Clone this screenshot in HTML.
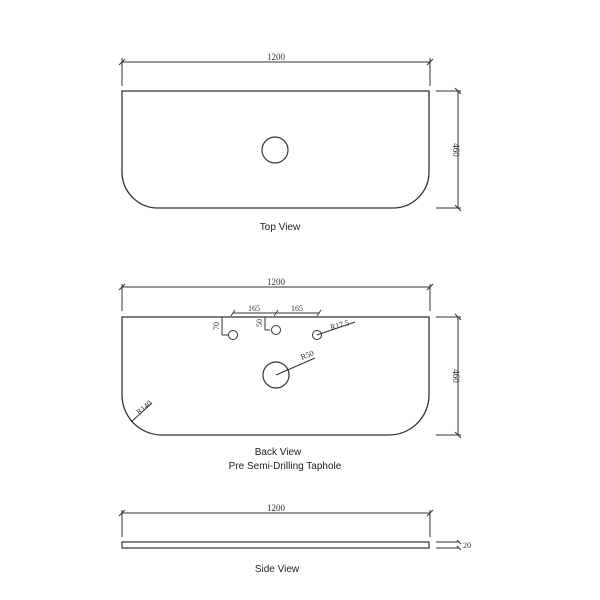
<!DOCTYPE html>
<html><head><style>body{margin:0;background:#fff}svg{display:block}</style></head><body>
<svg width="600" height="600" xmlns="http://www.w3.org/2000/svg" font-family="Liberation Serif, serif" fill="none" stroke="#333" stroke-width="1">
<!-- Top view -->
<line x1="122" y1="62" x2="430" y2="62"/>
<line x1="122" y1="58" x2="122" y2="86"/>
<line x1="430" y1="58" x2="430" y2="86"/>
<path d="M119 65 L125 59 M427 65 L433 59"/>
<text x="276" y="60" font-size="9" fill="#333" stroke="none" text-anchor="middle">1200</text>
<path d="M122 91 L429 91 L429 172 A36 36 0 0 1 393 208 L158 208 A36 36 0 0 1 122 172 Z" stroke-width="1.3"/>
<circle cx="275" cy="150" r="13" stroke-width="1.2"/>
<line x1="458" y1="91" x2="458" y2="208"/>
<line x1="436" y1="91" x2="461" y2="91"/>
<line x1="436" y1="208" x2="461" y2="208"/>
<path d="M455 88 L461 94 M455 205 L461 211"/>
<text transform="translate(453,150) rotate(90)" font-size="9" fill="#333" stroke="none" text-anchor="middle">460</text>
<text x="280" y="230" font-size="10" font-family="Liberation Sans, sans-serif" fill="#222" stroke="none" text-anchor="middle">Top View</text>
<!-- Back view -->
<line x1="122" y1="287" x2="430" y2="287"/>
<line x1="122" y1="284" x2="122" y2="311"/>
<line x1="430" y1="284" x2="430" y2="311"/>
<path d="M119 290 L125 284 M427 290 L433 284"/>
<text x="276" y="285" font-size="9" fill="#333" stroke="none" text-anchor="middle">1200</text>
<path d="M122 317 L429 317 L429 395 A40 40 0 0 1 389 435 L162 435 A40 40 0 0 1 122 395 Z" stroke-width="1.3"/>
<circle cx="233" cy="335" r="4.5"/>
<circle cx="276" cy="330" r="4.5"/>
<circle cx="317" cy="335" r="4.5"/>
<circle cx="276" cy="375" r="13" stroke-width="1.2"/>
<line x1="276" y1="375" x2="315" y2="358"/>
<text transform="translate(302,360) rotate(-22)" font-size="8" fill="#333" stroke="none">R50</text>
<line x1="317" y1="335" x2="355" y2="322"/>
<text transform="translate(331,330) rotate(-15)" font-size="8" fill="#333" stroke="none">R17.5</text>
<line x1="131" y1="422" x2="152" y2="403"/>
<text transform="translate(139,415) rotate(-40)" font-size="8" fill="#333" stroke="none">R140</text>
<line x1="233" y1="313" x2="319" y2="313"/>
<path d="M231 316 L235 310 M274 316 L278 310 M317 316 L321 310"/>
<text x="254" y="311" font-size="8" fill="#333" stroke="none" text-anchor="middle">165</text>
<text x="297" y="311" font-size="8" fill="#333" stroke="none" text-anchor="middle">165</text>
<line x1="222" y1="317" x2="222" y2="335"/><line x1="222" y1="335" x2="228" y2="335"/>
<text transform="translate(219,326) rotate(-90)" font-size="8" fill="#333" stroke="none" text-anchor="middle">70</text>
<line x1="265" y1="317" x2="265" y2="330"/><line x1="265" y1="330" x2="270" y2="330"/>
<text transform="translate(262,323) rotate(-90)" font-size="8" fill="#333" stroke="none" text-anchor="middle">50</text>
<line x1="458" y1="317" x2="458" y2="435"/>
<line x1="436" y1="317" x2="461" y2="317"/>
<line x1="436" y1="435" x2="461" y2="435"/>
<path d="M455 314 L461 320 M455 432 L461 438"/>
<text transform="translate(453,376) rotate(90)" font-size="9" fill="#333" stroke="none" text-anchor="middle">460</text>
<text x="278" y="455" font-size="10" font-family="Liberation Sans, sans-serif" fill="#222" stroke="none" text-anchor="middle">Back View</text>
<text x="285" y="469" font-size="10" font-family="Liberation Sans, sans-serif" fill="#222" stroke="none" text-anchor="middle">Pre Semi-Drilling Taphole</text>
<!-- Side view -->
<line x1="122" y1="513" x2="430" y2="513"/>
<line x1="122" y1="510" x2="122" y2="537"/>
<line x1="430" y1="510" x2="430" y2="537"/>
<path d="M119 516 L125 510 M427 516 L433 510"/>
<text x="276" y="511" font-size="9" fill="#333" stroke="none" text-anchor="middle">1200</text>
<rect x="122" y="542" width="307" height="6" stroke-width="1.2"/>
<line x1="436" y1="542" x2="459" y2="542"/>
<line x1="436" y1="548" x2="459" y2="548"/>
<path d="M457 540 L461 544 M457 546 L461 550"/>
<text x="463" y="548" font-size="8" fill="#333" stroke="none">20</text>
<text x="277" y="572" font-size="10" font-family="Liberation Sans, sans-serif" fill="#222" stroke="none" text-anchor="middle">Side View</text>
</svg>
</body></html>
